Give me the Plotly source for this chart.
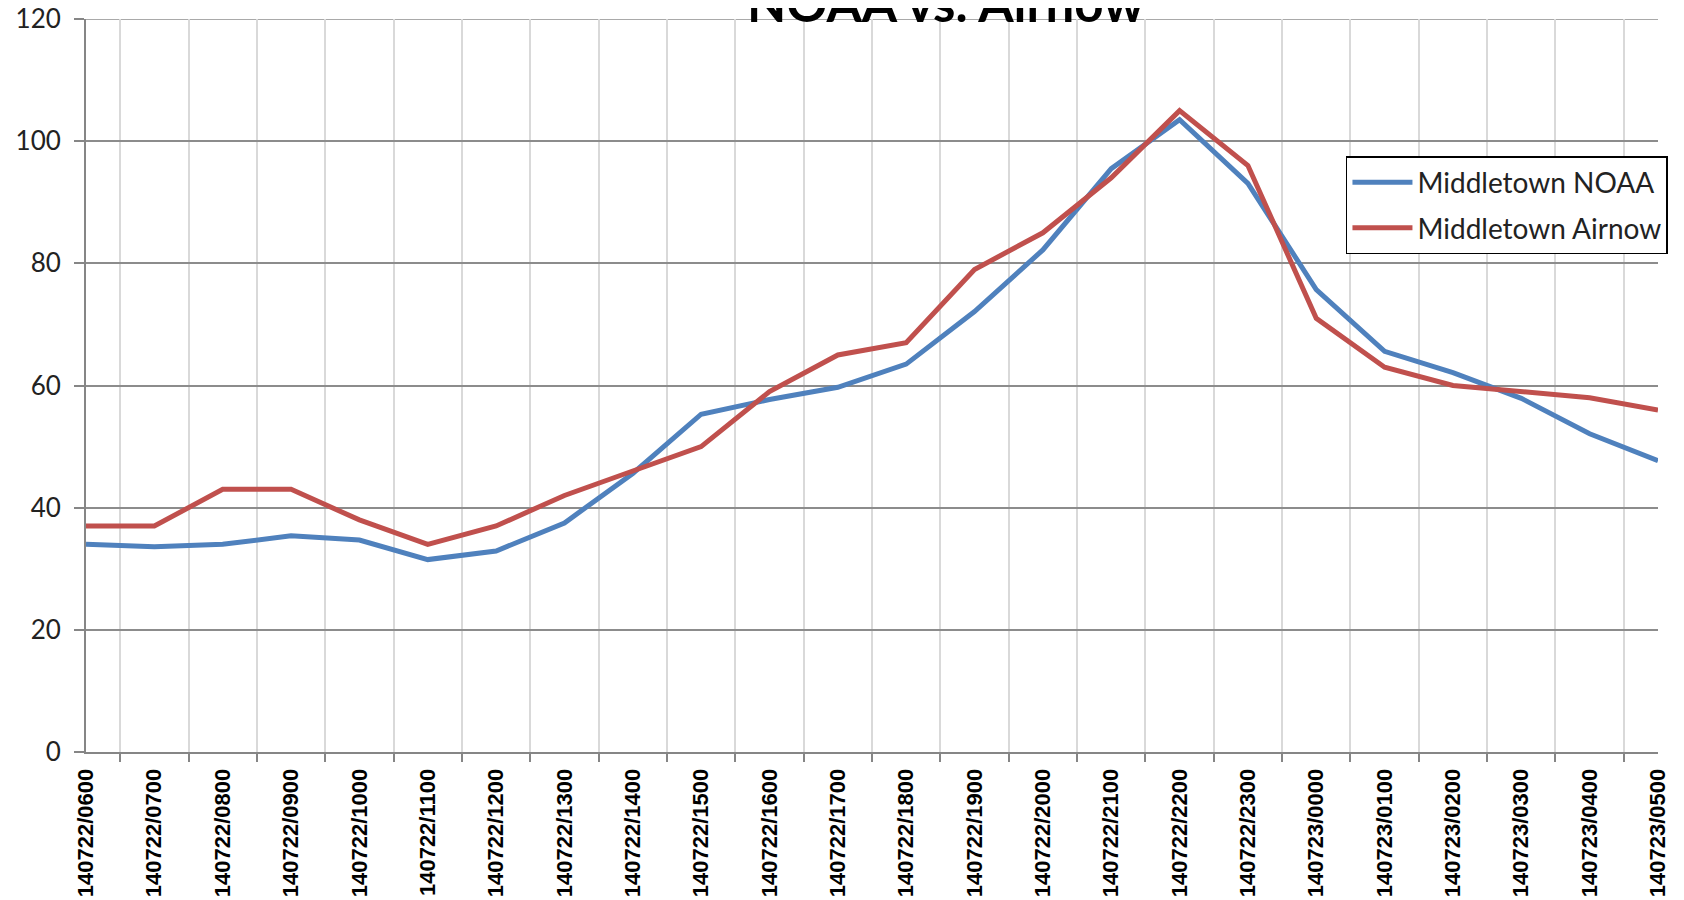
import plotly.graph_objects as go

# hourly readings, 22-23 July 2014
hours = [
    "140722/0600", "140722/0700", "140722/0800", "140722/0900", "140722/1000",
    "140722/1100", "140722/1200", "140722/1300", "140722/1400", "140722/1500",
    "140722/1600", "140722/1700", "140722/1800", "140722/1900", "140722/2000",
    "140722/2100", "140722/2200", "140722/2300", "140723/0000", "140723/0100",
    "140723/0200", "140723/0300", "140723/0400", "140723/0500",
]
noaa = [34.0, 33.6, 34.0, 35.4, 34.7, 31.5, 32.9, 37.5, 45.6, 55.3, 57.7, 59.7,
        63.5, 72.1, 82.2, 95.5, 103.5, 93.1, 75.7, 65.6, 62.1, 57.9, 52.1, 47.7]
airnow = [37, 37, 43, 43, 38, 34, 37, 42, 46, 50, 59, 65,
          67, 79, 85, 94, 105, 96, 71, 63, 60, 59, 58, 56]
y_max = 120

fig = go.Figure()
fig.add_trace(go.Scatter(x=hours, y=noaa, mode="lines", name="Middletown NOAA",
                         legendgroup="a", line=dict(color="#4F81BD", width=5)))
fig.add_trace(go.Scatter(x=hours, y=airnow, mode="lines", name="Middletown Airnow",
                         legendgroup="b", line=dict(color="#C0504D", width=5)))

# page body has an 8px margin, so the figure is a bit smaller than the window
fig.update_layout(
    width=1676, height=892,
    margin=dict(l=78, r=26, t=11, b=148, autoexpand=False),
    paper_bgcolor="white", plot_bgcolor="white",
    font=dict(family="Lato, sans-serif", size=26, color="#222222"),
    showlegend=True,
    legend=dict(
        x=0.8015, y=0.813, xanchor="left", yanchor="top",
        bgcolor="white", bordercolor="black", borderwidth=1.5,
        font=dict(family="Lato, sans-serif", size=28, color="#222222"),
        tracegroupgap=6, itemwidth=60,
    ),
    annotations=[dict(
        text="<b>NOAA vs. Airnow</b>", xref="paper", yref="paper",
        x=0.547, y=0.978, xanchor="center", yanchor="bottom", showarrow=False,
        font=dict(family="Lato, sans-serif", size=51, color="black"),
    )],
)

# top gridline (plotly drops the one sitting on the range edge)
fig.add_hline(y=y_max, line=dict(color="#8c8c8c", width=1.5), layer="below")

fig.update_xaxes(
    type="category", tickson="boundaries", ticks="outside", ticklen=8,
    tickcolor="#868686", tickwidth=1.5, automargin=False, ticklabelstandoff=6,
    showline=True, linecolor="#868686", linewidth=2,
    showgrid=True, gridcolor="#d9d9d9", gridwidth=1.5,
    tickangle=-90,
    tickfont=dict(family="Liberation Sans, Arial, sans-serif", size=22,
                  color="black", weight="bold"),
)
fig.update_yaxes(
    range=[0, y_max], dtick=20, ticks="outside", ticklen=10,
    tickcolor="#868686", tickwidth=1.5, automargin=False, ticklabelstandoff=8,
    ticklabeloverflow="allow",
    showline=True, linecolor="#868686", linewidth=2,
    showgrid=True, gridcolor="#8c8c8c", gridwidth=1.5, zeroline=False,
    tickfont=dict(family="Lato, sans-serif", size=26, color="#222222"),
)

fig.write_html("out.html")
